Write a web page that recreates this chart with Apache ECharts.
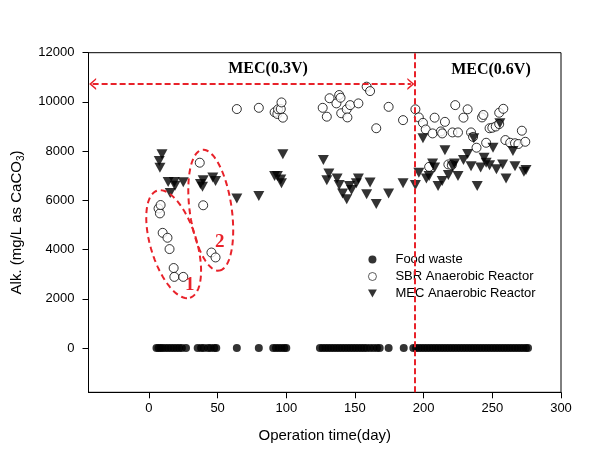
<!DOCTYPE html>
<html><head><meta charset="utf-8">
<script src="https://cdn.jsdelivr.net/npm/echarts@6/dist/echarts.min.js"></script>
<style>html,body{margin:0;padding:0;background:#fff}#c{width:606px;height:452px}</style>
</head><body><div id="c"></div>
<script>
// ---- data ----
const xTicks = [0, 50, 100, 150, 200, 250, 300];
const yTicks = [0, 2000, 4000, 6000, 8000, 10000, 12000];
const seriesNames = ['Food waste', 'SBR Anaerobic Reactor', 'MEC Anaerobic Reactor'];
const phaseLabels = ['MEC(0.3V)', 'MEC(0.6V)'];
const groupLabels = ['1', '2'];
const switchDay = 193.7;
const arrowLevel = 10730;

const foodWaste = [
  [5.5,0],[7,0],[8.5,0],[10,0],[12,0],[14,0],[16,0],[18,0],[20,0],[22,0],[24,0],[27,0],
  [35.5,0],[38,0],[40,0],[43,0],[45,0],[47.5,0],[49,0],
  [64,0],[80,0],[90.5,0],[92.5,0],[94.5,0],[96.5,0],[98.5,0],[100,0],
  [124.5,0],[126.5,0],[128.5,0],[130.5,0],[132.5,0],[134.5,0],[136.5,0],[138.5,0],[140.5,0],
  [142.5,0],[144.5,0],[146.5,0],[148.5,0],[150.5,0],[152.5,0],[154.5,0],[156.5,0],[158.5,0],
  [161,0],[163.5,0],[166,0],[168,0],[174.5,0],[185.5,0],
  [192.5,0],[194.5,0],[196.5,0],[198.5,0],[200.5,0],[202.5,0],[204.5,0],[206.5,0],[208.5,0],
  [210.5,0],[212.5,0],[214.5,0],[216.5,0],[218.5,0],[220.5,0],[222.5,0],[224.5,0],[226.5,0],
  [228.5,0],[230.5,0],[232.5,0],[234.5,0],[236.5,0],[238.5,0],[240.5,0],[242.5,0],[244.5,0],
  [246.5,0],[248.5,0],[250.5,0],[252.5,0],[254.5,0],[256.5,0],[258.5,0],[260.5,0],[262.5,0],
  [264.5,0],[266.5,0],[268.5,0],[270.5,0],[272.5,0],[274.5,0],[276,0]
];

const sbrReactor = [
  [7,5670],[8,5470],[8.5,5810],[10,4680],[13.5,4480],[15,4020],[18,3250],[18.5,2890],[25,2890],
  [37,7530],[39.5,5800],[45.5,3880],[48.5,3680],
  [64,9710],[80,9760],[91.5,9580],[93.5,9510],[94,9700],[96,9710],[96.5,9980],[97.5,9360],
  [126.5,9760],[129.5,9400],[131.5,10150],[136.5,9940],[138.5,10280],[139.5,10170],[140,9540],
  [144,9700],[144.5,9370],[146.5,9870],[152.5,9940],[158.5,10620],[161,10440],[165.5,8930],
  [174.5,9800],[185,9260],[194,9700],
  [196.5,9370],[199.5,9150],[201.5,8880],[204,7360],[206.5,8720],[208,9360],[212.5,8800],
  [213.5,8720],[215.5,9190],[218,7460],[220.5,7430],[221,8760],[223,9870],[225,8760],
  [229,9360],[232,9700],[234.5,8760],[236,8580],[238.5,8140],[242.5,9370],[243.5,9470],
  [245.5,8340],[248,8930],[250,8950],[252.5,9000],[255,9100],[255,9560],[258,9720],
  [259.5,8450],[263,8340],[266.5,8320],[269,8290],[271.5,8830],[274,8380]
];

const mecReactor = [
  [7.5,7600],[9.5,7870],[8,7320],[14,6750],[15.5,6300],[18.5,6750],[19,6590],[25,6740],
  [37.5,6660],[39,6550],[39.5,6820],[46.5,6930],[48.5,6790],[64,6080],[80,6180],
  [91.5,6990],[93.5,6990],[96,6850],[96.5,6690],[97.5,7870],
  [127,7640],[129.5,6820],[131,7090],[137,6890],[138.5,6620],[141,6280],[144,6040],
  [146,6580],[147.5,6420],[151,6690],[152.5,6890],[158.5,6250],[161,6730],[165.5,5850],
  [174.5,6280],[185,6690],[194,6620],
  [196.5,7120],[199.5,8520],[202,6890],[204,6990],[206.5,7500],[208,7340],[210.5,6580],
  [213.5,6790],[215.5,8040],[218,7030],[221,7390],[222.5,7500],[225,6990],[229,7640],
  [232,7880],[234.5,7390],[236.5,8520],[239,6580],[241.5,7340],[244,7730],[245.5,7530],
  [248,7430],[250.5,8140],[253,7260],[255.5,9130],[257.5,7460],[260,6890],[265,8010],
  [266.5,7390],[273,7160],[274.5,7230]
];

// ---- chart ----
const RED = '#e8222a';
const SANS = '"Liberation Sans", Arial, sans-serif';
const SERIF = '"Liberation Serif", "Times New Roman", serif';
const chevron = 'path://M50,0 L100,100 L84,100 L50,32 L16,100 L0,100 Z';
const downTri = 'path://M0,0 L100,0 L50,90 Z';

const chart = echarts.init(document.getElementById('c'));

const axisCommon = {
  type: 'value',
  axisLine: { show: true, onZero: false, lineStyle: { color: '#000', width: 1 } },
  splitLine: { show: false },
  nameTextStyle: { fontSize: 15, fontFamily: SANS, color: '#000' }
};

chart.setOption({
  animation: false,
  backgroundColor: '#fff',
  grid: { left: 88.5, right: 45, top: 52.7, bottom: 59.7, show: true, borderColor: '#000', borderWidth: 1 },
  legend: {
    orient: 'vertical', left: 363, top: 248,
    itemWidth: 36, itemHeight: 8, itemGap: 4,
    textStyle: { fontSize: 13, fontFamily: SANS, color: '#000' },
    data: [
      { name: seriesNames[0] },
      { name: seriesNames[1], itemStyle: { borderWidth: 0.8 } },
      { name: seriesNames[2], icon: downTri }
    ],
    selectedMode: false
  },
  xAxis: Object.assign({}, axisCommon, {
    min: -44, max: 300,
    name: 'Operation time(day)', nameLocation: 'middle', nameGap: 36,
    axisTick: { show: true, length: 6, customValues: xTicks, lineStyle: { color: '#000' } },
    axisLabel: { customValues: xTicks, fontSize: 13, fontFamily: SANS, color: '#000', margin: 10,
      formatter: function (v) { return String(v); } }
  }),
  yAxis: Object.assign({}, axisCommon, {
    min: -1800, max: 12000,
    name: '{a|Alk. (mg/L as CaCO}{s|3}{a|)}', nameLocation: 'middle', nameGap: 62, nameRotate: 90,
    nameTextStyle: {
      fontSize: 15, fontFamily: SANS, color: '#000',
      rich: {
        a: { fontSize: 15, fontFamily: SANS, color: '#000', lineHeight: 20, verticalAlign: 'middle' },
        s: { fontSize: 10, fontFamily: SANS, color: '#000', lineHeight: 10, verticalAlign: 'bottom' }
      }
    },
    axisTick: { show: true, length: 6, customValues: yTicks, lineStyle: { color: '#000' } },
    axisLabel: { customValues: yTicks, fontSize: 13, fontFamily: SANS, color: '#000', margin: 14,
      formatter: function (v) { return String(v); } }
  }),
  series: [
    {
      name: seriesNames[0], type: 'scatter', data: foodWaste,
      symbol: 'circle', symbolSize: 8, itemStyle: { color: '#000' }, z: 3,
      markLine: {
        silent: true, animation: false, symbol: 'none',
        label: { show: false },
        lineStyle: { color: RED, type: [6, 3], width: 2 },
        data: [
          { xAxis: switchDay },
          [ { coord: [-41, arrowLevel], symbol: chevron, symbolSize: [12, 7] },
            { coord: [switchDay - 3, arrowLevel], symbol: chevron, symbolSize: [12, 7] } ],
          [ { coord: [switchDay + 3, arrowLevel], symbol: chevron, symbolSize: [12, 7] },
            { coord: [301, arrowLevel], symbol: chevron, symbolSize: [12, 7] } ]
        ]
      }
    },
    {
      name: seriesNames[1], type: 'scatter', data: sbrReactor,
      symbol: 'circle', symbolSize: 9,
      itemStyle: { color: '#fff', borderColor: '#000', borderWidth: 1 }, z: 2
    },
    {
      name: seriesNames[2], type: 'scatter', data: mecReactor,
      symbol: 'triangle', symbolRotate: 180, symbolSize: [11, 10],
      itemStyle: { color: '#000' }, z: 2
    }
  ]
});

// annotations positioned through the chart's own scales
function px(pt) { return chart.convertToPixel({ gridIndex: 0 }, pt); }
function ellipsePts(center, a, b, deg) {
  const c = px(center), t = deg * Math.PI / 180, pts = [];
  const u = [Math.sin(t), Math.cos(t)], v = [Math.cos(t), -Math.sin(t)];
  for (let i = 0; i < 90; i++) {
    const ang = i / 90 * 2 * Math.PI;
    pts.push([c[0] + a * Math.cos(ang) * u[0] + b * Math.sin(ang) * v[0],
              c[1] + a * Math.cos(ang) * u[1] + b * Math.sin(ang) * v[1]]);
  }
  return pts;
}
const ellStyle = { fill: 'none', stroke: RED, lineWidth: 2, lineDash: [6, 4] };
const p03 = px([86.7, 11340]), p06 = px([249, 11300]);
const g1 = px([29.7, 2550]), g2 = px([51.5, 4300]);
chart.setOption({
  graphic: [
    { type: 'polygon', shape: { points: ellipsePts([18, 4220], 56, 23, 17) }, style: ellStyle, z: 10, silent: true },
    { type: 'polygon', shape: { points: ellipsePts([45, 5600], 61, 21, 8) }, style: ellStyle, z: 10, silent: true },
    { type: 'text', x: p03[0], y: p03[1], style: { text: phaseLabels[0], font: 'bold 16px ' + SERIF, fill: '#000', align: 'center', verticalAlign: 'middle' }, z: 11 },
    { type: 'text', x: p06[0], y: p06[1], style: { text: phaseLabels[1], font: 'bold 16px ' + SERIF, fill: '#000', align: 'center', verticalAlign: 'middle' }, z: 11 },
    { type: 'text', x: g1[0], y: g1[1], style: { text: groupLabels[0], font: 'bold 19px ' + SERIF, fill: RED, align: 'center', verticalAlign: 'middle' }, z: 11 },
    { type: 'text', x: g2[0], y: g2[1], style: { text: groupLabels[1], font: 'bold 19px ' + SERIF, fill: RED, align: 'center', verticalAlign: 'middle' }, z: 11 }
  ]
});
</script>
</body></html>
